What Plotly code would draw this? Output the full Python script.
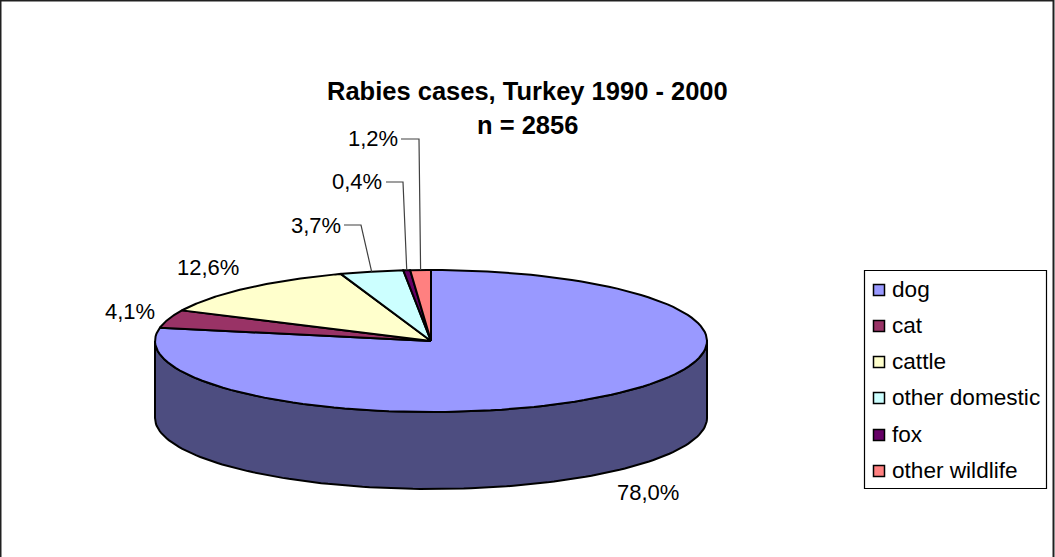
"""
Rabies cases in Turkey 1990-2000, drawn as a tilted pie on pixel-sized axes.
"""
import numpy as np
import plotly.graph_objects as go

categories = ['dog', 'cat', 'cattle', 'other domestic', 'fox', 'other wildlife']
shares = [78.0, 4.1, 12.6, 3.7, 0.4, 1.2]
share_labels = ['78,0%', '4,1%', '12,6%', '3,7%', '0,4%', '1,2%']
title_lines = ['Rabies cases, Turkey 1990 - 2000', 'n = 2856']

colors = ['#9999FF', '#993366', '#FFFFCC', '#CCFFFF', '#660066', '#FF8080']
SIDE_COLOR = '#4D4D80'
FONT = 'Liberation Sans'
WIDTH, HEIGHT = 1055, 557

# pie geometry in page pixels
CX, CY = 431, 341
RX, RY = 276, 71
DEPTH = 77


def rim(start_deg, end_deg, n=120):
    """Points on the ellipse, angles clockwise from 12 o'clock"""
    a = np.radians(np.linspace(start_deg, end_deg, n))
    return CX + RX * np.sin(a), CY - RY * np.cos(a)


fig = go.Figure()

# frame (runs off the bottom of the page)
fig.add_shape(type='rect', x0=0.5, y0=0.5, x1=1053.5, y1=570,
              line=dict(color='#202020', width=2), fillcolor='white', layer='below')

# side wall (only the front half shows)
x_top, y_top = rim(90, 270)
fig.add_trace(go.Scatter(
    x=np.concatenate([x_top, x_top[::-1], x_top[:1]]),
    y=np.concatenate([y_top, y_top[::-1] + DEPTH, y_top[:1]]),
    mode='lines', fill='toself', fillcolor=SIDE_COLOR,
    line=dict(color='black', width=2), name='side'
))

# top slices
start = 0.0
mid_angles = []
for name, share, color in zip(categories, shares, colors):
    end = start + share * 3.6
    x_arc, y_arc = rim(start, end)
    fig.add_trace(go.Scatter(
        x=np.concatenate([[CX], x_arc, [CX]]),
        y=np.concatenate([[CY], y_arc, [CY]]),
        mode='lines', fill='toself', fillcolor=color,
        line=dict(color='black', width=2), name=name
    ))
    mid_angles.append((start + end) / 2)
    start = end

# leader lines for the three small slices
elbows = {3: [(344, 225), (361, 225)], 4: [(386, 182), (403, 182)], 5: [(401, 139), (419, 139)]}
for i, pts in elbows.items():
    x_end, y_end = rim(mid_angles[i], mid_angles[i], n=1)
    fig.add_trace(go.Scatter(
        x=[p[0] for p in pts] + [x_end[0]],
        y=[p[1] for p in pts] + [y_end[0]],
        mode='lines', line=dict(color='#404040', width=1.2), name='leader'
    ))

# slice labels
label_pos = [(648, 492), (130, 311), (208, 267), (316, 225), (357, 181), (373, 138)]
for text, (lx, ly) in zip(share_labels, label_pos):
    fig.add_annotation(x=lx, y=ly, text=text, showarrow=False,
                       font=dict(family=FONT, size=22, color='black'))

# title
for line, ty in zip(title_lines, [91, 125]):
    fig.add_annotation(x=527, y=ty, text='<b>' + line + '</b>', showarrow=False,
                       font=dict(family=FONT, size=25.5, color='black'))

# legend box
fig.add_shape(type='rect', x0=864.5, y0=270.5, x1=1046.5, y1=488.5,
              line=dict(color='black', width=1.2), fillcolor='white', layer='below')
legend_y = [290, 326, 362, 398, 435, 471]
fig.add_trace(go.Scatter(
    x=[879] * len(categories), y=legend_y, mode='markers',
    marker=dict(symbol='square', size=11, color=colors, line=dict(color='black', width=1.5)),
    name='legend'
))
for name, ly in zip(categories, legend_y):
    fig.add_annotation(x=890, y=ly - 1, text=name, showarrow=False, xanchor='left',
                       font=dict(family=FONT, size=22.6, color='black'))

fig.update_layout(
    width=WIDTH, height=HEIGHT,
    margin=dict(l=0, r=0, t=0, b=0),
    paper_bgcolor='white', plot_bgcolor='white',
    showlegend=False,
    xaxis=dict(range=[0, WIDTH], visible=False, fixedrange=True),
    yaxis=dict(range=[HEIGHT, 0], visible=False, fixedrange=True),
)
fig.write_html("out.html", config=dict(displayModeBar=False),
               post_script="document.body.style.margin = '0';")
